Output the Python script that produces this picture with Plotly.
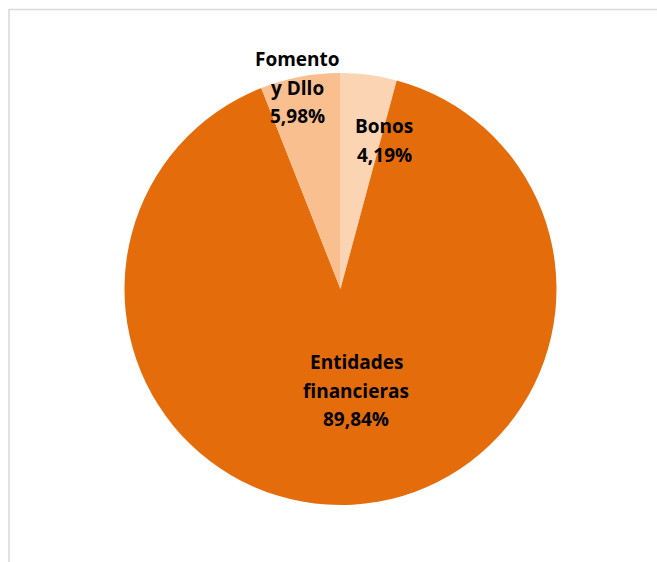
import plotly.graph_objects as go

W, H = 657, 562

categories = ["Bonos", "Entidades financieras", "Fomento y Dllo"]
label_lines = [["Bonos"], ["Entidades", "financieras"], ["Fomento", "y Dllo"]]
values = [4.19, 89.84, 5.98]
colors = ["#FBD4B4", "#E46C0A", "#F9BF8F"]

# label anchor (x centre, y of first line) in pixels, and line pitch
label_pos = [(384, 126), (356, 362), (297, 59)]
pitch = 28.5

fig = go.Figure(go.Pie(
    labels=categories,
    values=values,
    sort=False,
    direction="clockwise",
    rotation=0,
    marker=dict(colors=colors, line=dict(width=0)),
    textinfo="none",
    hoverinfo="label+percent",
    showlegend=False,
    domain=dict(x=[124 / W, 557 / W], y=[1 - 505 / H, 1 - 73 / H]),
))

font = dict(family="'Open Sans', Lato, sans-serif", size=19, color="#000000")
for lines, v, (px, py) in zip(label_lines, values, label_pos):
    all_lines = lines + [f"{v:.2f}%".replace(".", ",")]
    for i, ln in enumerate(all_lines):
        fig.add_annotation(
            x=px / W, y=1 - (py + i * pitch) / H, xref="paper", yref="paper",
            text=f"<b>{ln}</b>", showarrow=False,
            xanchor="center", yanchor="middle", align="center",
            font=font,
        )

fig.add_shape(
    type="rect", xref="paper", yref="paper",
    x0=9 / W, x1=1.05, y0=-0.05, y1=1 - 9.5 / H,
    line=dict(color="#D9D9D9", width=1.5), fillcolor="rgba(0,0,0,0)",
)

fig.update_layout(
    width=W, height=H,
    margin=dict(l=0, r=0, t=0, b=0),
    paper_bgcolor="white", plot_bgcolor="white",
)

fig.write_html(
    "out.html",
    config={"displayModeBar": False},
    post_script="document.body.style.margin='0';document.body.style.overflow='hidden';",
)
